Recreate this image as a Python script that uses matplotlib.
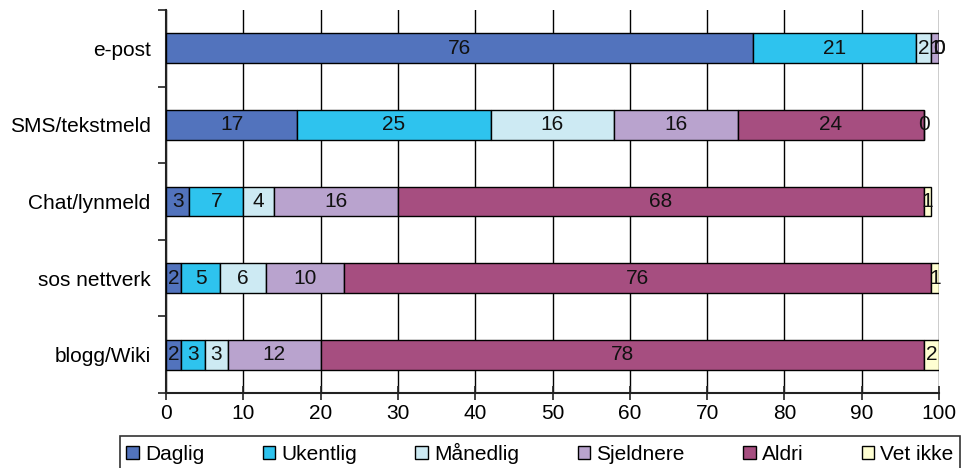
import matplotlib
matplotlib.use("Agg")
import matplotlib.pyplot as plt
from matplotlib import font_manager
import numpy as np

available = {f.name for f in font_manager.fontManager.ttflist}
family = "Liberation Sans Narrow" if "Liberation Sans Narrow" in available else "Liberation Sans"
plt.rcParams["font.family"] = [family, "DejaVu Sans"]

categories = ["e-post", "SMS/tekstmeld", "Chat/lynmeld", "sos nettverk", "blogg/Wiki"]
series = ["Daglig", "Ukentlig", "Månedlig", "Sjeldnere", "Aldri", "Vet ikke"]
daglig = [76, 17, 3, 2, 2]
ukentlig = [21, 25, 7, 5, 3]
maanedlig = [2, 16, 4, 6, 3]
sjeldnere = [1, 16, 16, 10, 12]
aldri = [0, 24, 68, 76, 78]
vet_ikke = [0, 0, 1, 1, 2]
colors = ["#5273BD", "#2EC3EE", "#CDEAF3", "#B9A3CE", "#A64E80", "#FFFFD2"]
x_ticks = [0, 10, 20, 30, 40, 50, 60, 70, 80, 90, 100]

values = [daglig, ukentlig, maanedlig, sjeldnere, aldri, vet_ikke]

fig = plt.figure(figsize=(9.61, 4.68), dpi=100)
ax = fig.add_axes([166 / 961, 1 - 393 / 468, (939 - 166) / 961, (393 - 10) / 468])

y = np.arange(len(categories))
left = np.zeros(len(categories))
for name, vals, col in zip(series, values, colors):
    vals = np.array(vals, dtype=float)
    ax.barh(y, vals, left=left, height=0.39, color=col, edgecolor="black",
            linewidth=1.0, label=name, zorder=3)
    for yi, (l, v) in enumerate(zip(left, vals)):
        ax.text(l + v / 2, yi, f"{int(v)}", ha="center", va="center",
                fontsize=15, color="#111111", zorder=4)
    left += vals

ax.set_xlim(0, 100)
ax.set_ylim(len(categories) - 0.5, -0.5)
ax.set_xticks(x_ticks)
ax.set_yticks(y)
ax.set_yticklabels(categories, fontsize=15)
ax.set_yticks(np.arange(-0.5, len(categories), 1), minor=True)
ax.tick_params(axis="y", which="major", length=0, pad=11)
ax.tick_params(axis="y", which="minor", length=6, width=1.2, direction="out", color="#222222")
ax.tick_params(axis="x", which="major", length=10, width=1.2, direction="inout",
               labelsize=15, pad=3, color="#222222")
ax.xaxis.grid(True, color="black", linewidth=1.0, zorder=0)
ax.set_axisbelow(True)
for s in ("top", "right"):
    ax.spines[s].set_visible(False)
for s in ("left", "bottom"):
    ax.spines[s].set_linewidth(1.5)
    ax.spines[s].set_color("#222222")

leg = fig.legend(loc="center", bbox_to_anchor=(540 / 961, 1 - 453 / 468), ncol=6,
                 fontsize=15, frameon=True, fancybox=False, edgecolor="black",
                 handlelength=0.6, handleheight=0.6, handletextpad=0.3,
                 columnspacing=2.8, borderpad=0.3, borderaxespad=0)
leg.get_frame().set_linewidth(1.2)

fig.savefig("out.png", dpi=100)
